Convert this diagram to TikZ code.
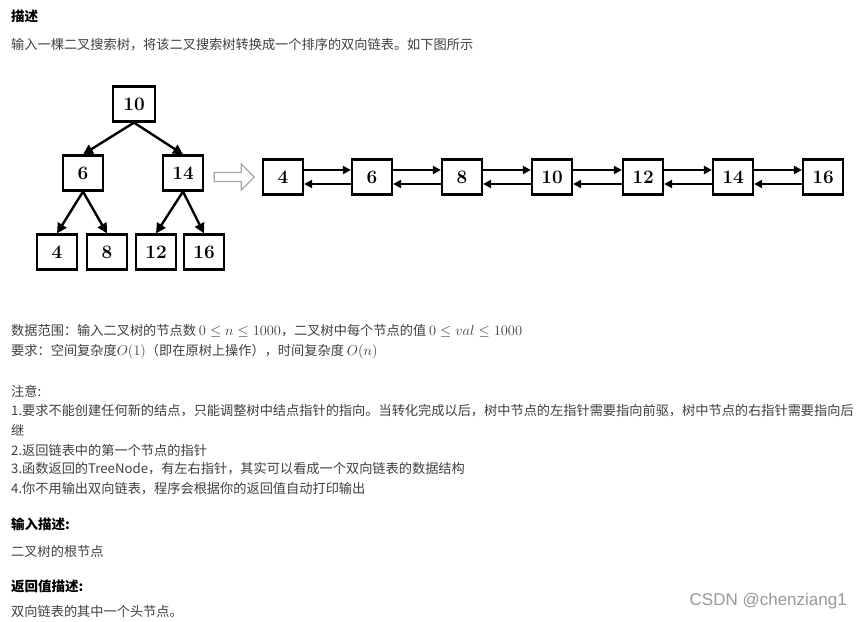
\documentclass[tikz,border=0pt]{standalone}
\usepackage{fontspec}
\usepackage{amsmath}
\newfontfamily\cjk{Noto Sans CJK SC}
\newfontfamily\wm{Liberation Sans}
\usetikzlibrary{arrows.meta,shapes.arrows}
\definecolor{txt}{HTML}{404040}
\newcommand{\mm}[1]{{\fontsize{15}{15}\selectfont$#1$}}
\tikzset{
 bx/.style={draw=black,line width=2.2pt,minimum width=40pt,minimum height=35pt,inner sep=0pt,font=\fontsize{19}{19}\selectfont\bfseries},
 tarr/.style={line width=2.4pt,-{Triangle[length=10pt,width=10pt]}},
 larr/.style={line width=2pt,-{Triangle[length=8pt,width=8pt]}},
 tl/.style={anchor=west,inner sep=0pt,text=txt,font=\cjk\fontsize{13.2}{15}\selectfont},
}
\begin{document}
\begin{tikzpicture}[x=1pt,y=-1pt]
\useasboundingbox (0,0) rectangle (861,621);
\fill[white] (0,0) rectangle (861,621);
\node[tl,text=black,font=\cjk\bfseries\fontsize{13.5}{15}\selectfont] (title) at (11,16) {描述};
\node[tl] (l1) at (11,45) {输入一棵二叉搜索树，将该二叉搜索树转换成一个排序的双向链表。如下图所示};
% tree
\node[bx,minimum width=42pt] (r) at (134,104) {10};
\node[bx] (a) at (83,173) {6};
\node[bx] (b) at (183,173) {14};
\node[bx] (a1) at (57,252) {4};
\node[bx] (a2) at (107,252) {8};
\node[bx] (b1) at (156,252) {12};
\node[bx] (b2) at (204,252) {16};
\draw[tarr] (r.south) -- (a.north);
\draw[tarr] (r.south) -- (b.north);
\draw[tarr] (a.south) -- (a1.north);
\draw[tarr] (a.south) -- (a2.north);
\draw[tarr] (b.south) -- (b1.north);
\draw[tarr] (b.south) -- (b2.north);
\node[single arrow,draw=gray!70,line width=1.2pt,fill=white,minimum height=40pt,minimum width=26pt,single arrow head extend=5pt,inner sep=2pt] (big) at (232,177) {};
% list
\foreach \v/\x in {4/283,6/372,8/462,10/552,12/643,14/733,16/823}{
  \node[bx] (n\v) at (\x,177) {\v};
}
\foreach \p/\q in {4/6,6/8,8/10,10/12,12/14,14/16}{
  \draw[larr] ([yshift=7pt]n\p.east) -- ([yshift=7pt]n\q.west);
  \draw[larr] ([yshift=-7pt]n\q.west) -- ([yshift=-7pt]n\p.east);
}
% text
\node[tl] (l2) at (11,331) {数据范围：输入二叉树的节点数 \mm{0 \leq n \leq 1000}，二叉树中每个节点的值 \mm{0 \leq val \leq 1000}};
\node[tl] (l3) at (11,352) {要求：空间复杂度\mm{O(1)}（即在原树上操作），时间复杂度 \mm{O(n)}};
\node[tl] (l4) at (11,391) {注意:};
\node[tl] (l5) at (11,411) {1.要求不能创建任何新的结点，只能调整树中结点指针的指向。当转化完成以后，树中节点的左指针需要指向前驱，树中节点的右指针需要指向后};
\node[tl] (l6) at (11,430) {继};
\node[tl] (l7) at (11,450) {2.返回链表中的第一个节点的指针};
\node[tl] (l8) at (11,469) {3.函数返回的TreeNode，有左右指针，其实可以看成一个双向链表的数据结构};
\node[tl] (l9) at (11,489) {4.你不用输出双向链表，程序会根据你的返回值自动打印输出};
\node[tl,text=black,font=\cjk\bfseries\fontsize{13.5}{15}\selectfont] (h2) at (11,524) {输入描述:};
\node[tl] (l10) at (11,551) {二叉树的根节点};
\node[tl,text=black,font=\cjk\bfseries\fontsize{13.5}{15}\selectfont] (h3) at (11,586) {返回值描述:};
\node[tl] (l11) at (11,611) {双向链表的其中一个头节点。};
\node[anchor=east,inner sep=0pt,text=gray!80,font=\wm\fontsize{17}{17}\selectfont] (w) at (847,601) {CSDN @chenziang1};
\end{tikzpicture}
\end{document}
